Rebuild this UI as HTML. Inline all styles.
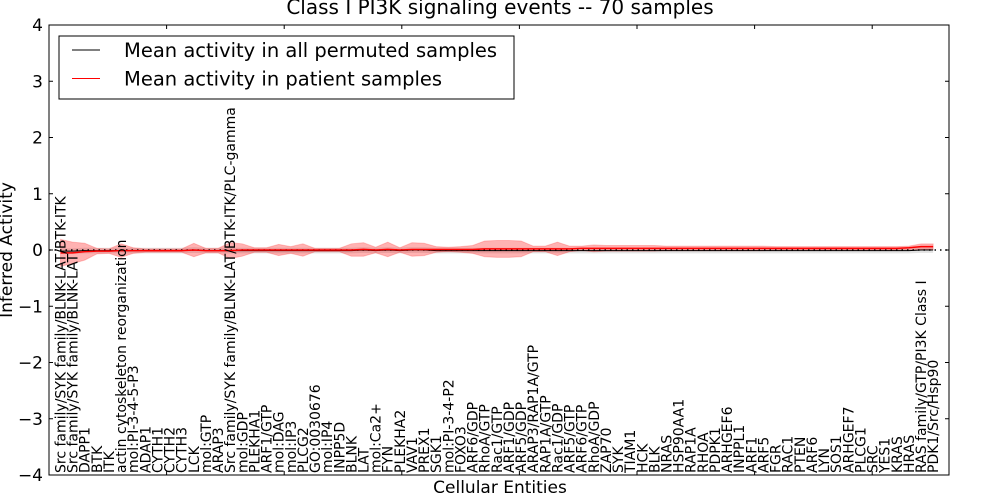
<!DOCTYPE html>
<html><head><meta charset="utf-8"><style>
body{margin:0;background:#fff;}
svg{display:block;font-family:"DejaVu Sans","Liberation Sans",sans-serif;}
</style></head><body>
<svg id="chart" width="1000" height="500" viewBox="0 0 1000 500" xmlns="http://www.w3.org/2000/svg">
<rect width="1000" height="500" fill="#fff"/>
<text x="500" y="14" font-size="20" text-anchor="middle">Class I PI3K signaling events -- 70 samples</text>
<g id="bands"></g>
<g id="lines"></g>
<rect x="49" y="25" width="900" height="450" fill="none" stroke="#000" stroke-width="1"/>
<g id="yaxis"></g>
<g id="xaxis"></g>
<text transform="translate(12,250) rotate(-90)" font-size="17" text-anchor="middle">Inferred Activity</text>
<text x="500" y="493" font-size="17" text-anchor="middle">Cellular Entities</text>
<g>
<rect x="59" y="36" width="455" height="63" fill="#fff" stroke="#000" stroke-width="1"/>
<line x1="72" y1="50" x2="100" y2="50" stroke="#000" stroke-width="1"/>
<text x="124" y="57" font-size="19.5">Mean activity in all permuted samples</text>
<line x1="72" y1="78.5" x2="100" y2="78.5" stroke="#f00" stroke-width="1"/>
<text x="124" y="85.5" font-size="19.5">Mean activity in patient samples</text>
</g>
</svg>
<script>
const categories=["Src family/SYK family/BLNK-LAT/BTK-ITK","Src family/SYK family/BLNK-LAT","DAPP1","BTK","ITK","actin cytoskeleton reorganization","mol:PI-3-4-5-P3","ADAP1","CYTH1","CYTH2","CYTH3","LCK","mol:GTP","ARAP3","Src family/SYK family/BLNK-LAT/BTK-ITK/PLC-gamma","mol:GDP","PLEKHA1","ARF1/GTP","mol:DAG","mol:IP3","PLCG2","GO:0030676","mol:IP4","INPP5D","BLNK","LAT","mol:Ca2+","FYN","PLEKHA2","VAV1","PREX1","SGK1","mol:PI-3-4-P2","FOXO3","ARF6/GDP","RhoA/GTP","Rac1/GTP","ARF1/GDP","ARF5/GDP","ARAP3/RAP1A/GTP","RAP1A/GTP","Rac1/GDP","ARF5/GTP","ARF6/GTP","RhoA/GDP","ZAP70","SYK","TIAM1","HCK","BLK","NRAS","HSP90AA1","RAP1A","RHOA","PDPK1","ARHGEF6","INPPL1","ARF1","ARF5","FGR","RAC1","PTEN","ARF6","LYN","SOS1","ARHGEF7","PLCG1","SRC","YES1","KRAS","HRAS","RAS family/GTP/PI3K Class I","PDK1/Src/Hsp90"];
const patientMean=[-0.05,-0.05,-0.03,-0.02,-0.02,-0.01,-0.01,-0.01,-0.01,-0.01,-0.01,0.0,-0.01,-0.01,-0.01,0.0,0.0,0.0,0.0,0.0,0.0,0.0,0.0,0.0,0.0,0.01,0.0,0.01,0.0,0.01,0.01,0.01,0.01,0.01,0.01,0.02,0.02,0.02,0.02,0.02,0.02,0.02,0.02,0.03,0.03,0.03,0.03,0.03,0.03,0.03,0.03,0.03,0.03,0.03,0.03,0.03,0.03,0.03,0.03,0.03,0.03,0.03,0.03,0.03,0.03,0.03,0.03,0.03,0.03,0.03,0.04,0.06,0.06];
const patientSpread=[0.24,0.19,0.15,0.05,0.04,0.12,0.05,0.03,0.03,0.03,0.03,0.12,0.04,0.04,0.14,0.11,0.04,0.04,0.1,0.06,0.11,0.03,0.03,0.03,0.11,0.12,0.05,0.13,0.04,0.12,0.11,0.05,0.04,0.05,0.07,0.14,0.15,0.15,0.14,0.05,0.05,0.12,0.05,0.04,0.06,0.05,0.05,0.05,0.05,0.05,0.04,0.04,0.04,0.04,0.04,0.04,0.04,0.04,0.04,0.03,0.03,0.03,0.03,0.03,0.03,0.03,0.03,0.03,0.03,0.03,0.03,0.05,0.05];
const permutedMean=[-0.02,-0.02,-0.01,-0.01,-0.01,-0.01,-0.01,-0.01,-0.01,-0.01,-0.01,0.0,-0.01,-0.01,-0.01,-0.01,-0.01,-0.01,-0.01,-0.01,-0.01,-0.01,-0.01,-0.01,-0.01,0.0,-0.01,0.0,-0.01,0.0,0.0,-0.01,-0.01,-0.01,-0.01,-0.01,-0.01,-0.01,-0.01,-0.01,-0.01,-0.01,-0.01,-0.01,-0.01,-0.01,-0.01,-0.01,-0.01,-0.01,-0.01,-0.01,-0.01,-0.01,-0.01,-0.01,-0.01,-0.01,-0.01,-0.01,-0.01,-0.01,-0.01,-0.01,-0.01,-0.01,-0.01,-0.01,-0.01,-0.01,-0.01,0.0,0.0];
const permutedSpread=[0.05,0.05,0.05,0.05,0.05,0.05,0.05,0.05,0.05,0.05,0.05,0.05,0.05,0.05,0.05,0.05,0.05,0.05,0.05,0.05,0.05,0.05,0.05,0.05,0.05,0.05,0.05,0.05,0.05,0.05,0.05,0.05,0.05,0.05,0.05,0.05,0.05,0.05,0.05,0.05,0.05,0.05,0.05,0.05,0.05,0.05,0.05,0.05,0.05,0.05,0.05,0.05,0.05,0.05,0.05,0.05,0.05,0.05,0.05,0.05,0.05,0.05,0.05,0.05,0.05,0.05,0.05,0.05,0.05,0.05,0.05,0.05,0.05];
const yTicks=[4,3,2,1,0,-1,-2,-3,-4];
const yTickLabels=["4","3","2","1","0","\u22121","\u22122","\u22123","\u22124"];

const NS="http://www.w3.org/2000/svg";
const X0=49,X1=949,Y0=25,Y1=475;
function xs(i){return 60.5+i*12.12;}
function ys(v){return 250-v*56.25;}
function mk(tag,attrs,parent){const e=document.createElementNS(NS,tag);for(const k in attrs)e.setAttribute(k,attrs[k]);parent.appendChild(e);return e;}
const bands=document.getElementById('bands'),lines=document.getElementById('lines');
function band(mean,spread){let up=[],dn=[];for(let i=0;i<mean.length;i++){up.push(xs(i)+','+ys(mean[i]+spread[i]));dn.unshift(xs(i)+','+ys(mean[i]-spread[i]));}return up.concat(dn).join(' ');}
function line(mean){return mean.map((v,i)=>xs(i)+','+ys(v)).join(' ');}
const gb=mk('polygon',{points:band(permutedMean,permutedSpread),fill:'#c8c8c8','fill-opacity':0.5,stroke:'none'},bands);


const rb=mk('polygon',{points:band(patientMean,patientSpread),fill:'#f00','fill-opacity':0.3,stroke:'#f00','stroke-opacity':0.2},bands);


const zl=mk('line',{x1:X0,x2:X1,y1:ys(0),y2:ys(0),stroke:'#000','stroke-width':1.5,'stroke-dasharray':'1.5,4'},lines);


const bl=mk('polyline',{points:line(permutedMean),fill:'none',stroke:'#000','stroke-width':1},lines);


const rl=mk('polyline',{points:line(patientMean),fill:'none',stroke:'#f00','stroke-width':1.5},lines);


const ya=document.getElementById('yaxis');
yTicks.forEach((v,k)=>{const y=ys(v);
 mk('line',{x1:X0,x2:X0+4,y1:y,y2:y,stroke:'#000'},ya);
 mk('line',{x1:X1-4,x2:X1,y1:y,y2:y,stroke:'#000'},ya);
 const t=mk('text',{x:X0-6,y:y+6,'font-size':17,'text-anchor':'end'},ya);t.textContent=yTickLabels[k];
 
 
});
const xa=document.getElementById('xaxis');
for(let x=X0+117.6;x<X1;x+=117.6){mk('line',{x1:x,x2:x,y1:Y0,y2:Y0+4,stroke:'#000'},xa);mk('line',{x1:x,x2:x,y1:Y1-4,y2:Y1,stroke:'#000'},xa);}
categories.forEach((c,i)=>{const x=xs(i)+5;
 const t=mk('text',{transform:'translate('+x+',473) rotate(-90)','font-size':14},xa);t.textContent=c;
 
 
});
</script>
</body></html>
